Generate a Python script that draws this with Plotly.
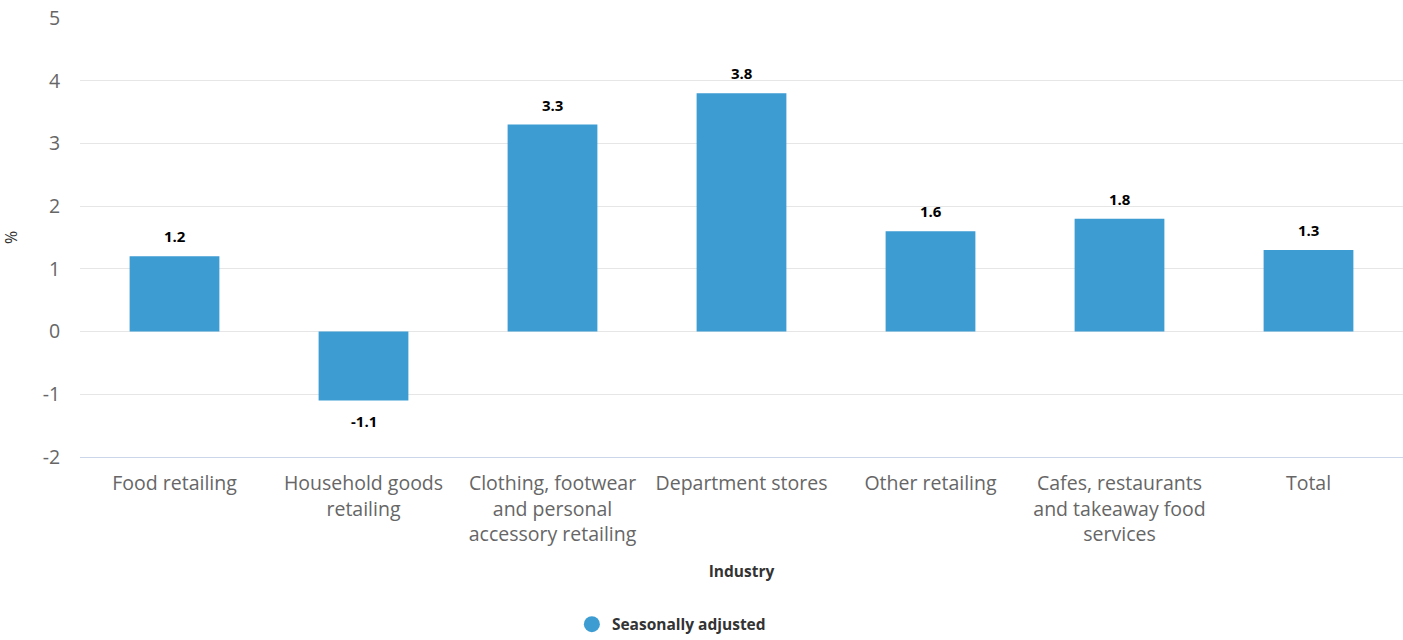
import plotly.graph_objects as go

categories = ["Food retailing", "Household goods<br>retailing",
              "Clothing, footwear<br>and personal<br>accessory retailing",
              "Department stores", "Other retailing",
              "Cafes, restaurants<br>and takeaway food<br>services", "Total"]
values = [1.2, -1.1, 3.3, 3.8, 1.6, 1.8, 1.3]
y_ticks = [-2, -1, 0, 1, 2, 3, 4, 5]
series_name = "Seasonally adjusted"
color = "#3d9dd3"
font_family = "Open Sans, Noto Sans, sans-serif"

fig = go.Figure()
fig.add_trace(go.Bar(
    x=categories, y=values, marker_color=color, marker_line_width=0,
    showlegend=False, name=series_name,
))
fig.add_trace(go.Scatter(
    x=[None], y=[None], mode="markers", name=series_name,
    marker=dict(symbol="circle", size=22, color=color),
))
for c, v in zip(categories, values):
    fig.add_annotation(
        x=c, y=v, text=f"<b>{v:.1f}</b>", showarrow=False,
        yanchor="bottom" if v >= 0 else "top",
        yshift=8 if v >= 0 else -8,
        font=dict(size=15, color="#000000", family=font_family),
    )

fig.update_layout(
    width=1403, height=640,
    margin=dict(l=80, r=0, t=18, b=183),
    paper_bgcolor="white", plot_bgcolor="white",
    font=dict(family=font_family, color="#666666"),
    bargap=0.525,
    showlegend=True,
    legend=dict(orientation="h", x=0.447, xanchor="center", yref="container", y=0.024, yanchor="middle",
                font=dict(size=15.5, color="#333333", weight="bold"),
                itemsizing="trace"),
    xaxis=dict(
        tickfont=dict(size=19.5, color="#666666"),
        showline=True, linecolor="#ccd6eb", linewidth=1,
        showgrid=False,
        title=dict(text="Industry", font=dict(size=15.5, color="#333333", weight="bold"), standoff=20),
        ticks="outside", ticklen=9, tickcolor="rgba(0,0,0,0)",
        automargin=False,
    ),
    yaxis=dict(
        range=[-2, 5], tickvals=y_ticks, ticktext=[str(t) for t in y_ticks],
        tickfont=dict(size=19.5, color="#666666"),
        showgrid=True, gridcolor="#e6e6e6", gridwidth=1,
        zeroline=False, showline=False,
        ticks="outside", ticklen=15, tickcolor="rgba(0,0,0,0)",
        title=dict(text="%", font=dict(size=16, color="#333333"), standoff=22),
        automargin=False,
    ),
)

fig.write_html("out.html")
